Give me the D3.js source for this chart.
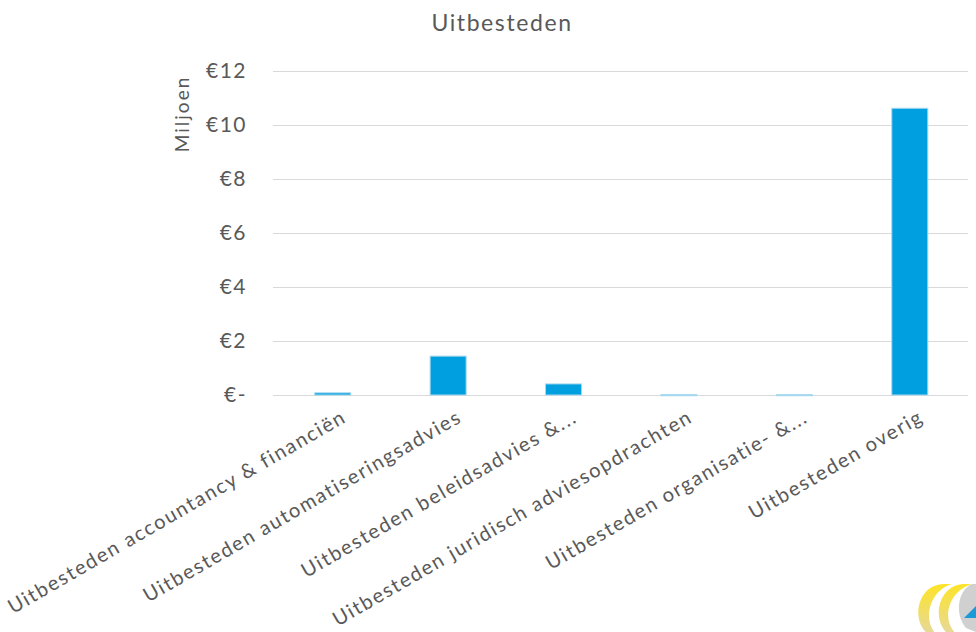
<!DOCTYPE html>
<html>
<head>
<meta charset="utf-8">
<script src="https://cdn.jsdelivr.net/npm/d3@7"></script>
<style>
	body { margin:0; background:#fff; }
	text { font-family: Lato, "Open Sans", sans-serif; fill:#595959; }
</style>
</head>
<body>
<div id="chart"></div>
<script>

// Data (miljoen euro)

var categories = ["Uitbesteden accountancy & financiën",
	"Uitbesteden automatiseringsadvies",
	"Uitbesteden beleidsadvies &...",
	"Uitbesteden juridisch adviesopdrachten",
	"Uitbesteden organisatie- &...",
	"Uitbesteden overig"];
var values = [0.08, 1.44, 0.41, 0.01, 0.01, 10.62];
var yTicks = [0, 2, 4, 6, 8, 10, 12];
var yTickLabels = ["€-", "€2", "€4", "€6", "€8", "€10", "€12"];

var width = 976,
	height = 632;

var svg = d3.select("#chart").append("svg")
	.attr("width",width)
	.attr("height",height);

var X = d3.scaleBand().domain(categories).range([275,967.5]).paddingInner(0.688).paddingOuter(0.344);
var Y = d3.scaleLinear().domain([0,12]).range([395,71]);

// Title
svg.append("text").attr("x",502).attr("y",31)
	.attr("text-anchor","middle").style("font-size","23px").style("letter-spacing","1.6px")
	.text("Uitbesteden");

// Gridlines
svg.append("g").selectAll("line").data(yTicks).enter().append("line")
	.attr("x1",273).attr("x2",968)
	.attr("y1",function(d){return Y(d)+0.5}).attr("y2",function(d){return Y(d)+0.5})
	.style("stroke","#d9d9d9").style("stroke-width",1);

// Y tick labels
svg.append("g").selectAll("text").data(yTicks).enter().append("text")
	.attr("x",247).attr("y",function(d){return Y(d)+7})
	.attr("text-anchor","end").style("font-size","21px").style("letter-spacing","1.5px")
	.text(function(d,i){return yTickLabels[i]});

// Y axis title
svg.append("text")
	.attr("transform","translate(189,114)rotate(-90)")
	.attr("text-anchor","middle").style("font-size","19px").style("letter-spacing","2px")
	.text("Miljoen");

// Bars
svg.append("g").selectAll("rect").data(values).enter().append("rect")
	.attr("x",function(d,i){return X(categories[i])})
	.attr("width",X.bandwidth())
	.attr("y",function(d){return Y(d)})
	.attr("height",function(d){return Math.max(1,Y(0)-Y(d))})
	.style("fill","#009fe0").style("stroke","#a6d8ef").style("stroke-width",1);

// Category labels
svg.append("g").selectAll("text").data(categories).enter().append("text")
	.attr("transform",function(d){return "translate("+(X(d)+X.bandwidth()/2+15)+",421)rotate(-30)"})
	.attr("text-anchor","end").style("font-size","20px").style("letter-spacing","1.7px")
	.text(function(d){return d});

// Logo (bottom right corner)
var logo = svg.append("g").attr("transform","translate(936,612)");
var yel = logo.append("defs").append("linearGradient").attr("id","yel").attr("x1",0).attr("y1",0).attr("x2",0).attr("y2",1);
yel.append("stop").attr("offset","0").attr("stop-color","#fde428");
yel.append("stop").attr("offset","1").attr("stop-color","#e6d89a");
logo.append("path").attr("d","M8,-28 C-18,-28 -26,8 -8,22 L0,22 C-14,8 -6,-22 16,-28 Z").style("fill","url(#yel)");
logo.append("path").attr("d","M28,-28 C4,-28 -6,6 12,22 L20,22 C4,6 14,-22 36,-28 Z").style("fill","url(#yel)");
logo.append("path").attr("d","M36,-28 C22,-22 18,2 30,16 L40,20 L40,-28 Z").style("fill","#d0d0d0");
logo.append("path").attr("d","M28,6 L40,-6 L40,6 Z").style("fill","#1a9ad6");

</script>
</body>
</html>
